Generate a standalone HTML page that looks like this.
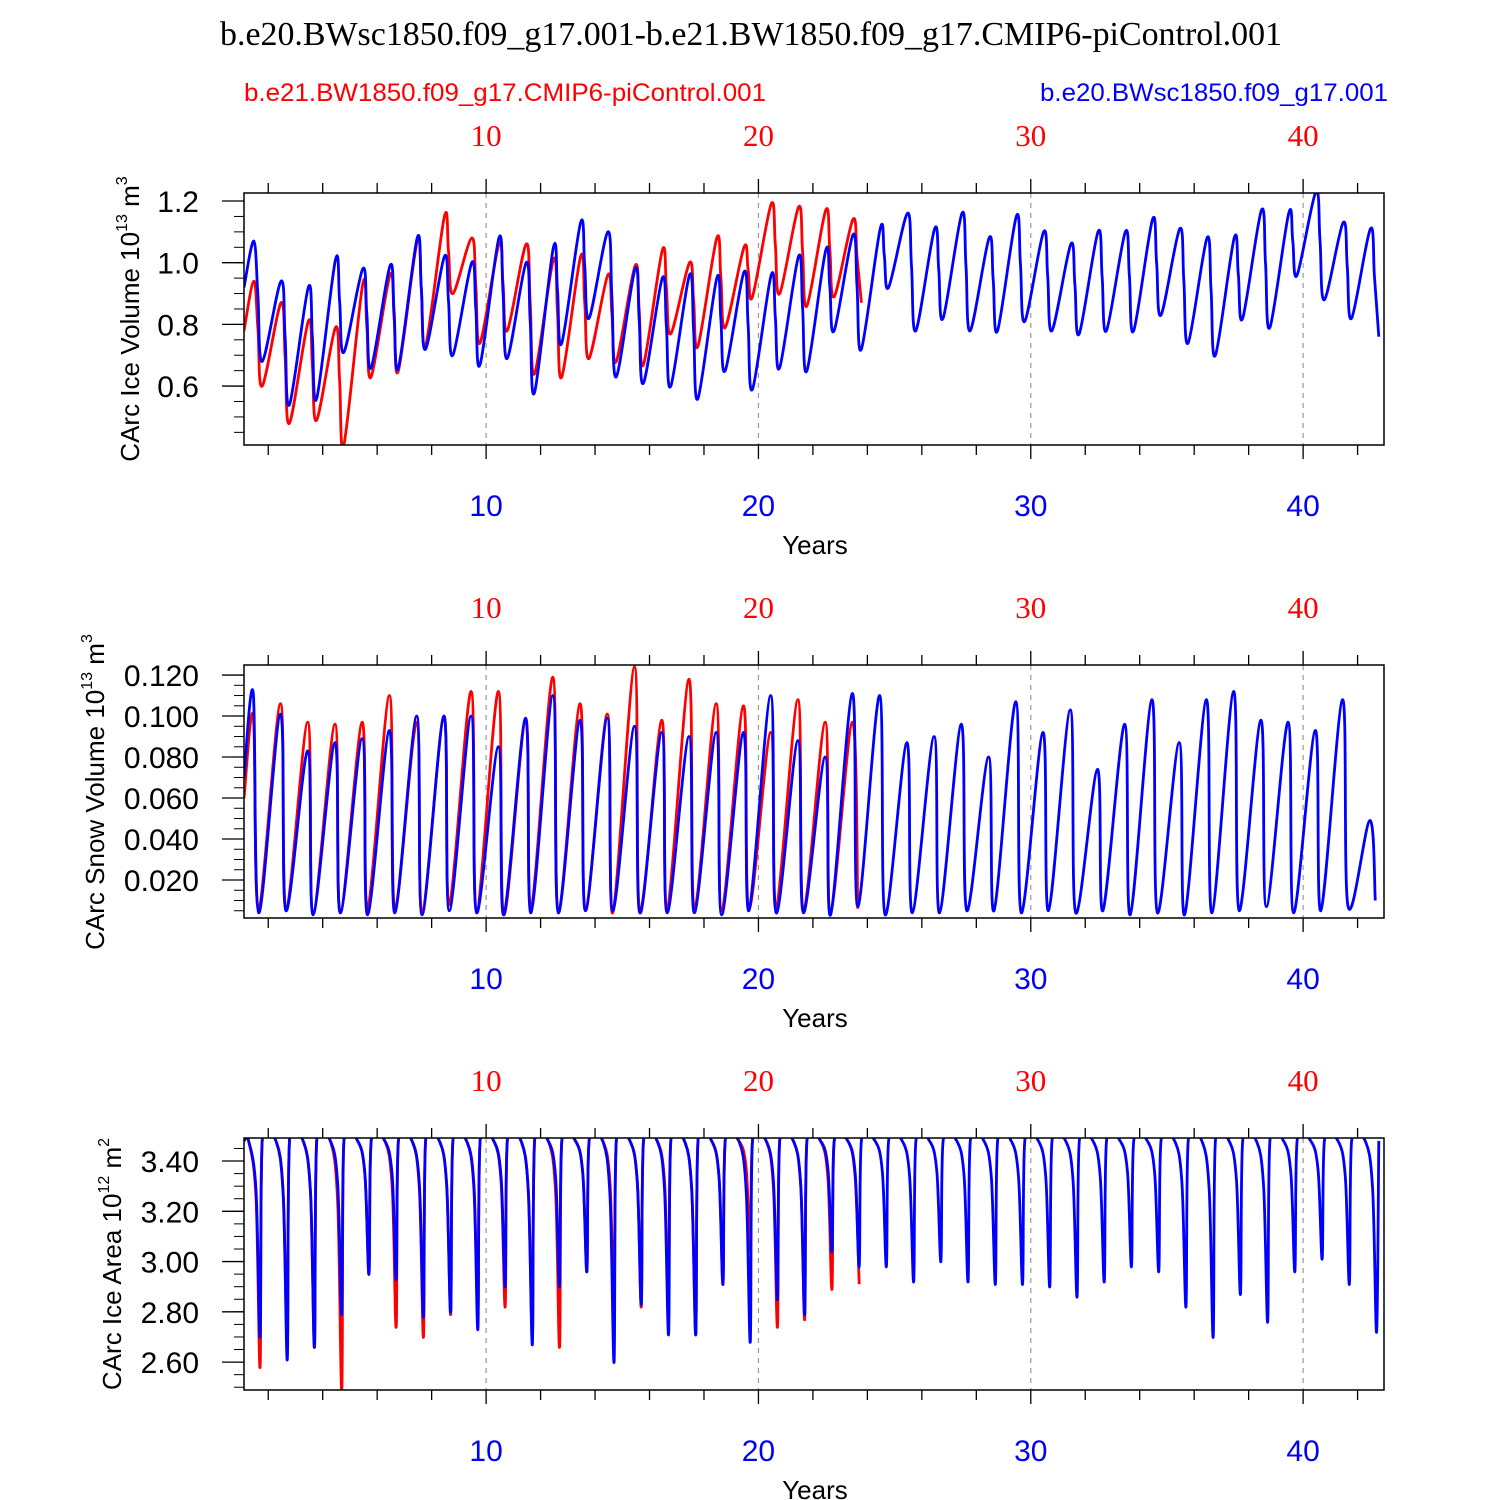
<!DOCTYPE html>
<html><head><meta charset="utf-8"><style>
body{margin:0;background:#fff}
svg{display:block}
text{font-family:"Liberation Sans",sans-serif}
</style></head><body>
<svg id="chart" width="1500" height="1500" viewBox="0 0 1500 1500" xmlns="http://www.w3.org/2000/svg">
<text x="751" y="45" text-anchor="middle" font-size="34" textLength="1062" lengthAdjust="spacingAndGlyphs" style="font-family:'Liberation Serif',serif">b.e20.BWsc1850.f09_g17.001-b.e21.BW1850.f09_g17.CMIP6-piControl.001</text>
<text x="244" y="101" font-size="25" textLength="522" lengthAdjust="spacingAndGlyphs" fill="#ff0000">b.e21.BW1850.f09_g17.CMIP6-piControl.001</text>
<text x="1040" y="101" font-size="25" textLength="348" lengthAdjust="spacingAndGlyphs" fill="#0000ff">b.e20.BWsc1850.f09_g17.001</text>
</svg>
<script>
// Panel 1: ice volume (10^13 m^3), annual peaks and troughs
const volBluePeak=[1.07,0.94,0.92,1.01,0.98,0.99,1.08,1.02,1.00,1.08,1.00,1.05,1.13,1.10,0.98,0.95,0.96,0.95,0.97,0.96,1.02,1.04,1.09,1.11,1.16,1.11,1.16,1.08,1.15,1.10,1.06,1.10,1.10,1.14,1.11,1.08,1.08,1.17,1.16,1.23,1.13,1.11];
const volBlueLow=[0.68,0.54,0.56,0.71,0.66,0.66,0.72,0.70,0.67,0.69,0.58,0.74,0.82,0.63,0.61,0.60,0.56,0.65,0.59,0.66,0.65,0.78,0.72,0.92,0.78,0.82,0.78,0.78,0.81,0.78,0.77,0.78,0.78,0.83,0.74,0.70,0.82,0.79,0.96,0.88,0.82,0.76];
const volRedPeak=[0.94,0.87,0.81,0.79,0.93,0.96,1.07,1.15,1.08,1.06,1.06,1.01,1.02,0.96,0.99,1.04,1.00,1.08,1.05,1.19,1.18,1.17,1.14,0.96];
const volRedLow=[0.60,0.48,0.49,0.41,0.63,0.65,0.73,0.90,0.74,0.78,0.64,0.63,0.69,0.68,0.67,0.77,0.73,0.79,0.89,0.90,0.86,0.89,0.87,0.90];
// Panel 2: snow volume
const snowBluePeak=[0.111,0.101,0.083,0.087,0.089,0.093,0.100,0.100,0.100,0.085,0.099,0.110,0.098,0.099,0.095,0.092,0.090,0.092,0.092,0.110,0.088,0.080,0.111,0.110,0.087,0.090,0.096,0.080,0.107,0.092,0.103,0.074,0.096,0.108,0.087,0.108,0.112,0.098,0.097,0.093,0.108,0.049];
const snowBlueLow=[0.004,0.005,0.003,0.004,0.003,0.004,0.003,0.005,0.004,0.003,0.004,0.004,0.005,0.005,0.004,0.004,0.004,0.003,0.005,0.004,0.004,0.003,0.007,0.003,0.004,0.004,0.005,0.005,0.004,0.005,0.004,0.005,0.003,0.004,0.003,0.004,0.005,0.007,0.004,0.005,0.007,0.010];
const snowRedPeak=[0.100,0.106,0.097,0.096,0.097,0.110,0.097,0.100,0.112,0.112,0.098,0.119,0.106,0.101,0.124,0.098,0.118,0.106,0.105,0.092,0.108,0.097,0.097,0.058];
const snowRedLow=[0.006,0.005,0.004,0.004,0.006,0.006,0.004,0.008,0.005,0.003,0.006,0.004,0.005,0.004,0.004,0.005,0.006,0.005,0.006,0.006,0.005,0.005,0.006,0.030];
// Panel 3: ice area (10^12 m^2)
const areaBlueMax=[3.48,3.48,3.48,3.48,3.48,3.48,3.48,3.48,3.48,3.48,3.48,3.48,3.48,3.48,3.48,3.48,3.48,3.48,3.48,3.48,3.48,3.48,3.48,3.48,3.48,3.48,3.48,3.48,3.48,3.48,3.48,3.48,3.48,3.48,3.48,3.48,3.48,3.48,3.48,3.48,3.48,3.48];
const areaBlueMin=[2.70,2.61,2.66,2.79,2.95,2.93,2.78,2.80,2.73,2.90,2.67,2.90,2.96,2.60,2.83,2.71,2.71,2.91,2.68,2.85,2.79,3.04,2.98,2.98,2.92,3.00,2.92,2.91,2.91,2.90,2.86,2.92,2.98,2.96,2.82,2.70,2.87,2.76,2.96,3.01,2.91,2.72];
const areaRedMax=[3.48,3.48,3.48,3.48,3.48,3.48,3.48,3.48,3.48,3.48,3.48,3.48,3.48,3.48,3.48,3.48,3.48,3.48,3.48,3.48,3.48,3.48,3.48];
const areaRedMin=[2.58,2.66,2.66,2.49,2.95,2.74,2.70,2.79,2.80,2.82,2.70,2.66,2.96,2.81,2.82,2.84,2.71,2.91,3.04,2.74,2.77,2.89,2.91];
const xTicks=[10,20,30,40];
const volTicks=["0.6","0.8","1.0","1.2"];
const snowTicks=["0.020","0.040","0.060","0.080","0.100","0.120"];
const areaTicks=["2.60","2.80","3.00","3.20","3.40"];

const NS="http://www.w3.org/2000/svg";
const svg=document.getElementById('chart');
const X0=244,X1=1384,XMIN=1.11,XMAX=42.97;
function xs(v){return X0+(v-XMIN)/(XMAX-XMIN)*(X1-X0);}
function mk(tag,attrs,parent){const e=document.createElementNS(NS,tag);for(const k in attrs)e.setAttribute(k,attrs[k]);(parent||svg).appendChild(e);return e;}

function panel(cfg){
  const {top,bot,ymin,ymax,ticks,minor,name,label,lx,ly,lsize}=cfg;
  const ys=v=>bot-(v-ymin)/(ymax-ymin)*(bot-top);
  const g=mk('g',{});
  
  
  const cp=mk('clipPath',{id:'cp-'+name},g);
  mk('rect',{x:X0,y:top,width:X1-X0,height:bot-top},cp);
  xTicks.forEach(t=>{const l=mk('line',{x1:xs(t),x2:xs(t),y1:top,y2:bot,stroke:'#999','stroke-width':1.2,'stroke-dasharray':'5,5'},g);
    
    });
  for(let t=2;t<=42;t+=2){const len=t%10===0?14:10;
    mk('line',{x1:xs(t),x2:xs(t),y1:bot,y2:bot+len,stroke:'#000','stroke-width':1.3},g);
    mk('line',{x1:xs(t),x2:xs(t),y1:top,y2:top-len,stroke:'#000','stroke-width':1.3},g);}
  xTicks.forEach(t=>{
    const b=mk('text',{x:xs(t),y:bot+71,'text-anchor':'middle','font-size':30,fill:'#0000ff'},g);b.textContent=t;
    
    
    const r=mk('text',{x:xs(t),y:top-47,'text-anchor':'middle','font-size':31,fill:'#ff0000',style:"font-family:'Liberation Serif',serif"},g);r.textContent=t;
    
    });
  const xt=mk('text',{x:815,y:bot+109,'text-anchor':'middle','font-size':26},g);xt.textContent='Years';
  
  
  for(let v=Math.ceil(ymin/minor)*minor;v<=ymax+1e-9;v+=minor){mk('line',{x1:X0,x2:X0-10,y1:ys(v),y2:ys(v),stroke:'#000','stroke-width':1},g);}
  ticks.forEach(s=>{const v=parseFloat(s);
    mk('line',{x1:X0,x2:X0-22,y1:ys(v),y2:ys(v),stroke:'#000','stroke-width':1.3},g);
    const t=mk('text',{x:X0-45,y:ys(v)+11,'text-anchor':'end','font-size':30},g);t.textContent=s;
    
    });
  const yl=mk('text',{x:lx,y:ly,'text-anchor':'middle','font-size':lsize,transform:`rotate(-90 ${lx} ${ly})`},g);
  yl.innerHTML=label;
  
  
  return {g,ys};
}

function series(p,name,color,hi,lo,shape,start,endX){
  let pts=[];
  if(start!=null)pts.push([XMIN,start]);
  for(let i=0;i<hi.length;i++){const y=i+1;
    shape.forEach(([f,w])=>{const l=lo[i]!=null?lo[i]:lo[lo.length-1];pts.push([y+f,l+w*(hi[i]-l)]);});}
  if(endX!=null)pts=pts.filter(q=>q[0]<=endX+1e-6);
  const P=pts.map(([x,v])=>[xs(x),p.ys(v)]);
  let d='M'+P[0][0].toFixed(1)+','+P[0][1].toFixed(1);
  for(let k=0;k<P.length-1;k++){
    const p0=P[Math.max(0,k-1)],p1=P[k],p2=P[k+1],p3=P[Math.min(P.length-1,k+2)];
    const t=0.35;
    const c1=[p1[0]+(p2[0]-p0[0])*t/2, p1[1]+(p2[1]-p0[1])*t/2];
    const c2=[p2[0]-(p3[0]-p1[0])*t/2, p2[1]-(p3[1]-p1[1])*t/2];
    c1[0]=Math.min(Math.max(c1[0],p1[0]),p2[0]);c2[0]=Math.min(Math.max(c2[0],p1[0]),p2[0]);
    d+=`C${c1[0].toFixed(1)},${c1[1].toFixed(1)} ${c2[0].toFixed(1)},${c2[1].toFixed(1)} ${p2[0].toFixed(1)},${p2[1].toFixed(1)}`;
  }
  const path=mk('path',{d,fill:'none',stroke:color,'stroke-width':2.8,'stroke-linejoin':'round','clip-path':`url(#cp-${name.split('-')[0]})`},p.g);
  
  
}

const volShape=[[0.47,1],[0.62,0.55],[0.78,0]];
const snowShape=[[0.45,1],[0.65,0]];
const areaShape=[[0.28,1],[0.55,0.75],[0.70,0],[0.78,1]];

const p1=panel({top:193,bot:445,ymin:0.409,ymax:1.226,ticks:volTicks,minor:0.05,name:'vol',label:'CArc Ice Volume 10<tspan font-size="16" dy="-12">13</tspan><tspan dy="12"> m</tspan><tspan font-size="16" dy="-12">3</tspan>',lx:139,ly:319,lsize:26});
series(p1,'vol-red','#ff0000',volRedPeak,volRedLow,volShape,0.78,24.0);
series(p1,'vol-blue','#0000ff',volBluePeak,volBlueLow,volShape,0.92);

const p2=panel({top:665,bot:918,ymin:0.00146,ymax:0.1249,ticks:snowTicks,minor:0.005,name:'snow',label:'CArc Snow Volume 10<tspan font-size="16" dy="-12">13</tspan><tspan dy="12"> m</tspan><tspan font-size="16" dy="-12">3</tspan>',lx:104,ly:792,lsize:26});
series(p2,'snow-red','#ff0000',snowRedPeak,snowRedLow,snowShape,0.06,24.0);
series(p2,'snow-blue','#0000ff',snowBluePeak,snowBlueLow,snowShape,0.07);

const p3=panel({top:1138,bot:1390,ymin:2.489,ymax:3.4916,ticks:areaTicks,minor:0.05,name:'area',label:'CArc Ice Area 10<tspan font-size="16" dy="-12">12</tspan><tspan dy="12"> m</tspan><tspan font-size="16" dy="-12">2</tspan>',lx:121,ly:1264,lsize:26});
series(p3,'area-red','#ff0000',areaRedMax,areaRedMin,areaShape,3.48,23.75);
series(p3,'area-blue','#0000ff',areaBlueMax,areaBlueMin,areaShape,3.48);

[[193,445],[665,918],[1138,1390]].forEach(([t,b])=>{
  const r=mk('rect',{x:X0,y:t,width:X1-X0,height:b-t,fill:'none',stroke:'#000','stroke-width':1.5});
  
  
});
</script>
</body></html>
